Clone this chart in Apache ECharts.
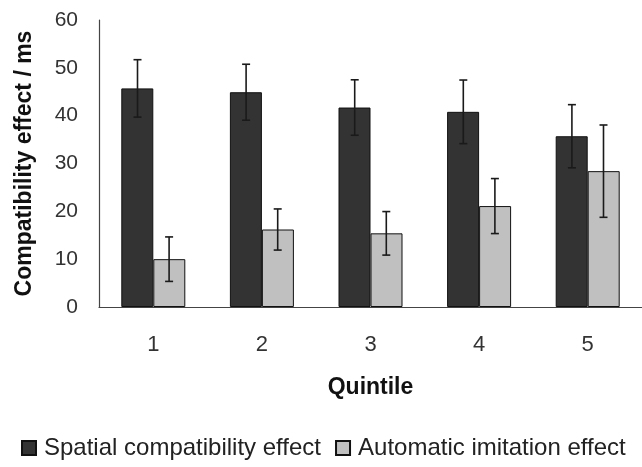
<!DOCTYPE html>
<html>
<head>
<meta charset="utf-8">
<script src="https://cdn.jsdelivr.net/npm/echarts@6/dist/echarts.min.js"></script>
<style>
html,body{margin:0;padding:0;background:#fff;}
#chart{width:642px;height:467px;}
</style>
</head>
<body>
<div id="chart"></div>
<script>
var categories = ['1', '2', '3', '4', '5'];
var spatialMeans = [45.7, 44.9, 41.7, 40.8, 35.7];
var spatialErr = [6.0, 5.85, 5.8, 6.65, 6.6];
var imitationMeans = [10.0, 16.2, 15.4, 21.1, 28.4];
var imitationErr = [4.65, 4.3, 4.55, 5.75, 9.65];
var yTicks = [0, 10, 20, 30, 40, 50, 60];

var chart = echarts.init(document.getElementById('chart'));

function errSeries(name, means, errs, offsetFrac) {
  return {
    type: 'custom',
    name: name + ' err',
    z: 10,
    silent: true,
    data: means.map(function (m, i) { return [i, m - errs[i], m + errs[i]]; }),
    renderItem: function (params, api) {
      var lo = api.coord([api.value(0), api.value(1)]);
      var hi = api.coord([api.value(0), api.value(2)]);
      var bw = api.size([1, 0])[0];
      var x = lo[0] + bw * offsetFrac;
      var cap = 4;
      var style = { stroke: '#1a1a1a', lineWidth: 1.6 };
      return {
        type: 'group',
        children: [
          { type: 'line', shape: { x1: x, y1: hi[1], x2: x, y2: lo[1] }, style: style },
          { type: 'line', shape: { x1: x - cap, y1: hi[1], x2: x + cap, y2: hi[1] }, style: style },
          { type: 'line', shape: { x1: x - cap, y1: lo[1], x2: x + cap, y2: lo[1] }, style: style }
        ]
      };
    }
  };
}

var barW = 32;
var catW = 110;

chart.setOption({
  animation: false,
  backgroundColor: '#ffffff',
  textStyle: { fontFamily: 'Liberation Sans, Arial, sans-serif' },
  grid: { left: 99, right: -8, top: 20, bottom: 160, containLabel: false },
  legend: {
    bottom: 2,
    left: 16,
    icon: 'rect',
    itemWidth: 14,
    itemHeight: 14,
    itemGap: 14,
    data: ['Spatial compatibility effect', 'Automatic imitation effect'],
    textStyle: { fontSize: 24, color: '#222', fontFamily: 'Liberation Sans, Arial, sans-serif', padding: [0, 0, 0, 3] }
  },
  xAxis: {
    type: 'category',
    data: categories,
    name: 'Quintile',
    nameLocation: 'middle',
    nameGap: 69,
    nameTextStyle: { fontSize: 23, fontWeight: 'bold', color: '#111' },
    axisLine: { lineStyle: { color: '#444', width: 1.2 } },
    axisTick: { show: false },
    axisLabel: { fontSize: 22, color: '#333', margin: 27 }
  },
  yAxis: {
    type: 'value',
    min: 0,
    max: 60,
    interval: 10,
    name: 'Compatibility effect / ms',
    nameLocation: 'middle',
    nameGap: 63,
    nameTextStyle: { fontSize: 23, fontWeight: 'bold', color: '#111' },
    axisLine: { show: true, lineStyle: { color: '#444', width: 1.2 } },
    axisTick: { show: false },
    splitLine: { show: false },
    axisLabel: { fontSize: 21, color: '#333', margin: 21,
      formatter: function (v) { return yTicks.indexOf(v) >= 0 ? String(v) : ''; } }
  },
  series: [
    {
      name: 'Spatial compatibility effect',
      type: 'bar',
      data: spatialMeans,
      barWidth: barW,
      barGap: '0%',
      itemStyle: { color: '#333333', borderColor: '#111', borderWidth: 1 }
    },
    {
      name: 'Automatic imitation effect',
      type: 'bar',
      data: imitationMeans,
      barWidth: barW,
      barGap: '0%',
      itemStyle: { color: '#c0c0c0', borderColor: '#111', borderWidth: 1 }
    },
    errSeries('Spatial compatibility effect', spatialMeans, spatialErr, -(barW / 2) / catW),
    errSeries('Automatic imitation effect', imitationMeans, imitationErr, (barW / 2) / catW)
  ]
});
</script>
</body>
</html>
